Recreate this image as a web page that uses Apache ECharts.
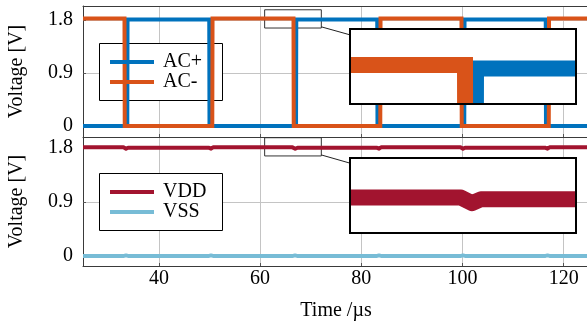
<!DOCTYPE html>
<html><head><meta charset="utf-8">
<script src="https://cdn.jsdelivr.net/npm/echarts@6/dist/echarts.min.js"></script>
<style>
html,body{margin:0;padding:0;background:#fff}
#wrap{position:relative;width:587px;height:323px;overflow:hidden}
#c{position:absolute;left:0;top:0;width:587px;height:323px}
.inset{position:absolute;box-sizing:border-box;border:2px solid #000;background:#fff;overflow:hidden}
.inset div{width:100%;height:100%}
</style>
</head><body>
<div id="wrap">
  <div id="c"></div>
  <div class="inset" id="in0" style="left:349px;top:28px;width:228px;height:77px"><div id="c0"></div></div>
  <div class="inset" id="in1" style="left:349px;top:157px;width:228px;height:77px"><div id="c1"></div></div>
</div>
<script>
// ---- data ----
const xRange = [25, 125];
const xTicks = [40, 60, 80, 100, 120];
const yTicks = [0, 0.9, 1.8];

const acPlusT = [25, 33.75, 33.8, 49.95, 50.0, 67.1, 67.15, 83.15, 83.2, 100.35, 100.4, 116.45, 116.5, 125];
const acPlusV = [0, 0, 1.81, 1.81, 0, 0, 1.81, 1.81, 0, 0, 1.81, 1.81, 0, 0];

const acMinusT = [25, 33.2, 33.25, 50.55, 50.6, 66.6, 66.65, 83.75, 83.8, 99.8, 99.85, 117.05, 117.1, 125];
const acMinusV = [1.825, 1.825, 0, 0, 1.825, 1.825, 0, 0, 1.825, 1.825, 0, 0, 1.825, 1.825];

const vddT = [25, 33.0, 33.5, 33.9, 49.8, 50.3, 50.7, 66.4, 66.95, 67.4, 83.0, 83.5, 83.9, 99.6, 100.1, 100.5, 116.3, 116.8, 117.2, 125];
const vddV = [1.806, 1.806, 1.783, 1.799, 1.800, 1.784, 1.806, 1.806, 1.783, 1.799, 1.800, 1.784, 1.806, 1.806, 1.783, 1.799, 1.800, 1.784, 1.806, 1.806];

const vssT = [25, 33.1, 33.5, 33.9, 49.9, 50.3, 50.7, 66.5, 66.9, 67.3, 83.1, 83.5, 83.9, 99.7, 100.1, 100.5, 116.4, 116.8, 117.2, 125];
const vssV = [0.002, 0.002, 0.010, 0.002, 0.002, 0.010, 0.002, 0.002, 0.010, 0.002, 0.002, 0.010, 0.002, 0.002, 0.010, 0.002, 0.002, 0.010, 0.002, 0.002];

// zoomed (spy) regions
const zoomX = [60.9, 72.1];
const zoomYTop = [1.664, 1.974];
const zoomYBot = [1.663, 1.966];

// ---- styles / layout ----
const FONT = 'Liberation Serif';
const FRAME = '#3a3a3a';
const GRIDC = '#c4c4c4';
const C_BLUE = '#0072BD', C_ORANGE = '#D95319', C_RED = '#A2142F', C_LBLUE = '#77BCD6';
const G0 = {left: 83, top: 6, width: 506, height: 131};
const G1 = {left: 83, top: 137, width: 506, height: 129};
const I0 = {left: 350, top: 29, width: 226, height: 75};
const I1 = {left: 350, top: 158, width: 226, height: 75};

const zip = (t, v) => t.map((x, i) => [x, v[i]]);

function mainX(gi, labels) {
  return {
    type: 'value', gridIndex: gi, min: xRange[0], max: xRange[1], position: 'bottom',
    axisLine: {show: true, onZero: false, lineStyle: {color: FRAME, width: 1}},
    axisTick: {show: true, inside: true, length: 3, customValues: xTicks, lineStyle: {color: '#555'}},
    axisLabel: {show: labels, customValues: xTicks, color: '#000', fontFamily: FONT, fontSize: 20, margin: 3},
    splitLine: {show: true, lineStyle: {color: GRIDC, width: 1}},
    name: labels ? 'Time /\u00b5s' : '', nameLocation: 'middle', nameGap: 35,
    nameTextStyle: {color: '#000', fontFamily: FONT, fontSize: 20}
  };
}
function topFrameX(gi) {
  return {
    type: 'value', gridIndex: gi, min: xRange[0], max: xRange[1], position: 'top',
    axisLine: {show: true, onZero: false, lineStyle: {color: FRAME, width: 1}},
    axisTick: {show: false}, axisLabel: {show: false}, splitLine: {show: false}
  };
}
function mainY(gi, min, max) {
  return {
    type: 'value', gridIndex: gi, min: min, max: max, position: 'left',
    axisLine: {show: true, onZero: false, lineStyle: {color: FRAME, width: 1}},
    axisTick: {show: true, inside: true, length: 3, customValues: yTicks, lineStyle: {color: '#555'}},
    axisLabel: {customValues: yTicks, color: '#000', fontFamily: FONT, fontSize: 20, margin: 10, padding: [2, 0, 0, 0]},
    splitLine: {show: true, lineStyle: {color: GRIDC, width: 1}},
    name: 'Voltage [V]', nameLocation: 'middle', nameGap: 56, nameRotate: 90,
    nameTextStyle: {color: '#000', fontFamily: FONT, fontSize: 20}
  };
}
function hiddenAxis(r) {
  return {type: 'value', min: r[0], max: r[1], show: false,
          splitLine: {show: false}, axisLine: {show: false}, axisTick: {show: false}, axisLabel: {show: false}};
}
function line(name, data, color, w, xi, join) {
  return {
    type: 'line', name: name, data: data, xAxisIndex: xi, yAxisIndex: xi,
    showSymbol: false, symbol: 'none', animation: false, silent: true,
    lineStyle: {color: color, width: w, join: join || 'miter', cap: 'butt'},
    itemStyle: {color: color}, emphasis: {disabled: true}, clip: true
  };
}

const legendCommon = {
  orient: 'vertical', left: 110, itemWidth: 44, itemHeight: 4, itemGap: 0, padding: 0,
  icon: 'rect', selectedMode: false, z: 5,
  textStyle: {color: '#000', fontFamily: FONT, fontSize: 20, lineHeight: 20, padding: [0, 0, 0, 4]}
};

const chart = echarts.init(document.getElementById('c'), null, {renderer: 'canvas'});
chart.setOption({
  animation: false,
  backgroundColor: '#fff',
  grid: [
    Object.assign({show: false, outerBoundsMode: 'none', containLabel: false}, G0),
    Object.assign({show: false, outerBoundsMode: 'none', containLabel: false}, G1)
  ],
  xAxis: [mainX(0, false), mainX(1, true), topFrameX(0)],
  yAxis: [mainY(0, -0.187, 2.038), mainY(1, -0.166, 1.978)],
  legend: [
    Object.assign({}, legendCommon, {top: 52, data: ['AC+', 'AC-']}),
    Object.assign({}, legendCommon, {top: 182, data: ['VDD', 'VSS']})
  ],
  series: [
    line('AC+', zip(acPlusT, acPlusV), C_BLUE, 4, 0),
    line('AC-', zip(acMinusT, acMinusV), C_ORANGE, 4, 0),
    line('VDD', zip(vddT, vddV), C_RED, 4, 1, 'round'),
    line('VSS', zip(vssT, vssV), C_LBLUE, 4, 1, 'round')
  ]
});

// magnified insets (own charts, clipped by their framed boxes)
function insetChart(id, yr, series) {
  const ch = echarts.init(document.getElementById(id), null, {renderer: 'canvas'});
  ch.setOption({
    animation: false,
    grid: {left: 0, right: 0, top: 0, bottom: 0, show: false, outerBoundsMode: 'none'},
    xAxis: hiddenAxis(zoomX),
    yAxis: hiddenAxis(yr),
    series: series
  });
  return ch;
}
insetChart('c0', zoomYTop, [
  line('AC+', zip(acPlusT, acPlusV), C_BLUE, 16, 0),
  line('AC-', zip(acMinusT, acMinusV), C_ORANGE, 16, 0)
]);
insetChart('c1', zoomYBot, [
  line('VDD', zip(vddT, vddV), C_RED, 16, 0, 'round')
]);

// spy rectangles and connectors, positioned through the main axes
function spy(gi, yr, I) {
  const a = chart.convertToPixel({gridIndex: gi}, [zoomX[0], yr[1]]);
  const b = chart.convertToPixel({gridIndex: gi}, [zoomX[1], yr[0]]);
  const c1 = [(a[0] + b[0]) / 2, (a[1] + b[1]) / 2];
  const c2 = [I.left + I.width / 2, I.top + I.height / 2];
  const s = (c2[1] - c1[1]) / (c2[0] - c1[0]);
  const y1 = c1[1] + (b[0] - c1[0]) * s;
  const y2 = c1[1] + (I.left - c1[0]) * s;
  return [
    {type: 'rect', z: 1, shape: {x: a[0], y: a[1], width: b[0] - a[0], height: b[1] - a[1]},
     style: {fill: null, stroke: '#333', lineWidth: 1}},
    {type: 'line', z: 7, shape: {x1: b[0], y1: y1, x2: I.left, y2: y2}, style: {stroke: '#222', lineWidth: 1}}
  ];
}
chart.setOption({
  graphic: [].concat(
    spy(0, zoomYTop, I0),
    spy(1, zoomYBot, I1),
    [
      {type: 'rect', z: 3, shape: {x: 99.5, y: 43.5, width: 123, height: 57}, style: {fill: '#fff', stroke: '#000', lineWidth: 1}},
      {type: 'rect', z: 3, shape: {x: 99.5, y: 173.5, width: 123, height: 57}, style: {fill: '#fff', stroke: '#000', lineWidth: 1}}
    ]
  )
});
</script></body></html>
